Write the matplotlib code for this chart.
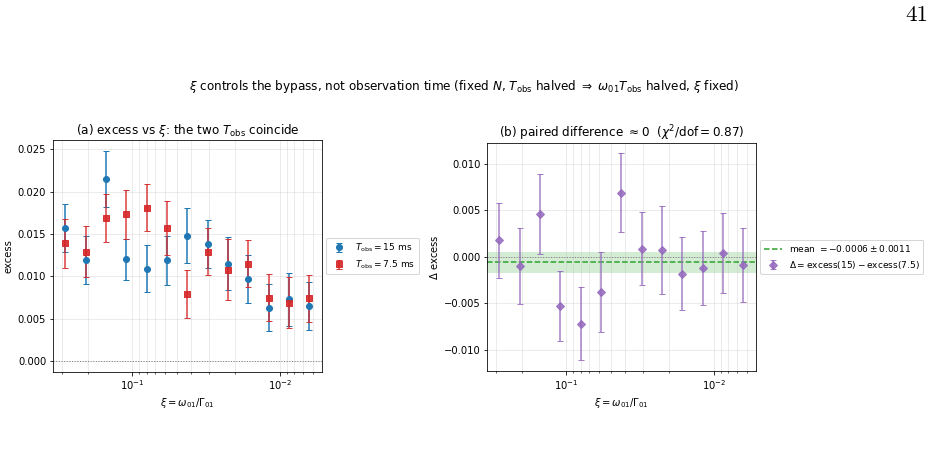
import numpy as np
import matplotlib.pyplot as plt

# xi = omega01 / Gamma01 (13 log-spaced points)
xi = [0.284, 0.207, 0.151, 0.110, 0.080, 0.058, 0.0424, 0.0309, 0.0225, 0.0164, 0.0119, 0.0087, 0.0063]

# excess for T_obs = 15 ms
exc15 = [0.0157, 0.0119, 0.0215, 0.0120, 0.0109, 0.0119, 0.0148, 0.0138, 0.0115, 0.0097, 0.0063, 0.0073, 0.0065]
err15 = [0.0028, 0.0028, 0.0033, 0.0024, 0.0028, 0.0029, 0.0032, 0.0028, 0.0031, 0.0028, 0.0028, 0.0031, 0.0028]

# excess for T_obs = 7.5 ms
exc75 = [0.0139, 0.0129, 0.0169, 0.0173, 0.0181, 0.0157, 0.0079, 0.0129, 0.0108, 0.0115, 0.0075, 0.0069, 0.0074]
err75 = [0.0029, 0.0030, 0.0028, 0.0029, 0.0028, 0.0032, 0.0028, 0.0028, 0.0036, 0.0028, 0.0028, 0.0030, 0.0028]

mean_delta = -0.0006
mean_err = 0.0011
chi2_dof = 0.87

delta = np.array(exc15) - np.array(exc75)
delta_err = np.sqrt(np.array(err15)**2 + np.array(err75)**2)

# the reference looks like a page rendered at ~72 dpi
fig = plt.figure(figsize=(934 / 72, 460 / 72), dpi=72)
ax1 = fig.add_axes([0.057, 0.192, 0.2873, 0.503])
ax2 = fig.add_axes([0.5217, 0.194, 0.2874, 0.495])

# (a) excess vs xi
ax1.errorbar(xi, exc15, yerr=err15, fmt='o', color='tab:blue', ms=6, capsize=3,
             label=r'$T_{\rm obs}=15$ ms')
ax1.errorbar(xi, exc75, yerr=err75, fmt='s', color='tab:red', ms=6, capsize=3,
             alpha=0.9, label=r'$T_{\rm obs}=7.5$ ms')
ax1.axhline(0, color='gray', ls=':', lw=1)
ax1.set_title(r'(a) excess vs $\xi$: the two $T_{\rm obs}$ coincide', fontsize=12)
ax1.set_ylabel('excess')
ax1.legend(loc='center left', bbox_to_anchor=(1.0, 0.5), fontsize=9)

# (b) paired difference
ax2.axhspan(mean_delta - mean_err, mean_delta + mean_err, color='tab:green', alpha=0.2, lw=0)
ax2.axhline(mean_delta, color='tab:green', ls='--', lw=1.5,
            label=r'mean $=%.4f\pm%.4f$' % (mean_delta, mean_err))
ax2.axhline(0, color='gray', ls=':', lw=1)
ax2.errorbar(xi, delta, yerr=delta_err, fmt='D', color='tab:purple', ms=6, capsize=3,
             alpha=0.85,
             label=r'$\Delta=\mathrm{excess}(15)-\mathrm{excess}(7.5)$')
ax2.set_title(r'(b) paired difference $\approx0$  ($\chi^2/\mathrm{dof}=%.2f$)' % chi2_dof, fontsize=12)
ax2.set_ylabel(r'$\Delta$ excess')
ax2.legend(loc='center left', bbox_to_anchor=(1.0, 0.5), fontsize=9)

for ax in (ax1, ax2):
    ax.set_xscale('log')
    ax.invert_xaxis()
    ax.set_xlabel(r'$\xi=\omega_{01}/\Gamma_{01}$')
    ax.grid(True, which='both', alpha=0.3)
    ax.tick_params(labelsize=10)

fig.text(0.497, 0.813,
         r'$\xi$ controls the bypass, not observation time (fixed $N$, $T_{\rm obs}$ halved'
         r' $\Rightarrow$ $\omega_{01}T_{\rm obs}$ halved, $\xi$ fixed)',
         ha='center', va='center', fontsize=12)
fig.text(0.994, 0.967, '41', ha='right', va='center', fontsize=23, family='cmr10')

fig.savefig('out.png', dpi=72)
